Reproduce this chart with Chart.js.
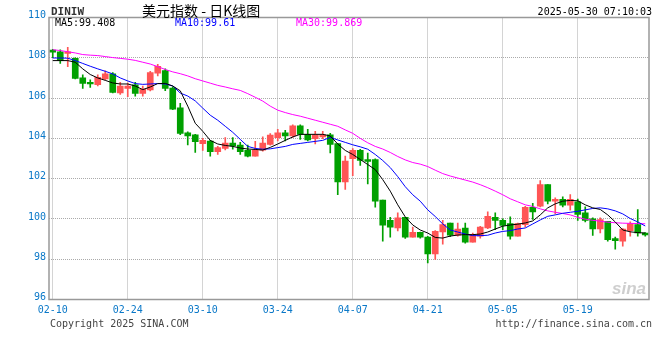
<!DOCTYPE html>
<html>
<head>
<meta charset="utf-8">
<script src="https://cdn.jsdelivr.net/npm/chart.js@4"></script>
<style>
  html, body { margin: 0; padding: 0; background: #ffffff; }
  #wrap { width: 660px; height: 360px; position: relative; }
</style>
</head>
<body>
<div id="wrap"><canvas id="c" width="660" height="360"></canvas></div>
<script>
// ---------- data ----------
const symbol = "DINIW";
const titleText = "美元指数 - 日K线图";
const stampText = "2025-05-30 07:10:03";
const copyrightText = "Copyright 2025 SINA.COM";
const urlText = "http://finance.sina.com.cn";
const ma5Label = "MA5:99.408";
const ma10Label = "MA10:99.61";
const ma30Label = "MA30:99.869";

const dates = [
  "02-10","02-11","02-12","02-13","02-14","02-17","02-18","02-19","02-20","02-21",
  "02-24","02-25","02-26","02-27","02-28","03-03","03-04","03-05","03-06","03-07",
  "03-10","03-11","03-12","03-13","03-14","03-17","03-18","03-19","03-20","03-21",
  "03-24","03-25","03-26","03-27","03-28","03-31","04-01","04-02","04-03","04-04",
  "04-07","04-08","04-09","04-10","04-11","04-14","04-15","04-16","04-17","04-18",
  "04-21","04-22","04-23","04-24","04-25","04-28","04-29","04-30","05-01","05-02",
  "05-05","05-06","05-07","05-08","05-09","05-12","05-13","05-14","05-15","05-16",
  "05-19","05-20","05-21","05-22","05-23","05-26","05-27","05-28","05-29","05-30"
];

const opens = [
  108.38,108.30,108.22,107.97,107.00,106.78,106.66,106.95,107.20,106.25,
  106.48,106.66,106.23,106.40,107.24,107.36,106.50,105.52,104.27,104.17,
  103.74,103.87,103.34,103.50,103.77,103.67,103.41,103.12,103.41,103.70,
  104.04,104.27,104.12,104.62,104.20,103.98,104.07,104.17,103.74,101.84,
  102.99,103.41,102.95,102.95,100.93,99.93,99.55,100.08,99.10,99.33,
  99.10,98.26,99.35,99.80,99.19,99.55,98.85,99.14,99.55,100.08,
  99.93,99.77,99.14,99.72,100.58,100.63,101.71,100.88,100.97,100.68,
  100.85,100.30,100.00,99.50,99.88,99.02,98.89,99.42,99.72,99.30
];
const closes = [
  108.28,107.86,108.30,106.98,106.73,106.70,107.03,107.20,106.28,106.60,
  106.60,106.23,106.45,107.27,107.57,106.48,105.45,104.24,104.12,103.83,
  103.90,103.34,103.54,103.77,103.62,103.34,103.12,103.42,103.77,104.16,
  104.27,104.12,104.62,104.20,103.92,104.17,104.17,103.70,101.84,102.87,
  103.41,102.91,102.85,100.88,99.69,99.59,100.05,99.10,99.33,99.10,
  98.26,99.38,99.72,99.19,99.50,98.85,99.22,99.59,100.13,99.93,
  99.68,99.14,99.77,100.58,100.35,101.71,100.88,100.97,100.68,100.97,
  100.22,99.93,99.50,99.97,98.97,98.92,99.50,99.77,99.30,99.20
];
const highs = [
  108.42,108.39,108.52,108.00,107.16,106.90,107.15,107.35,107.27,106.78,
  106.75,106.78,106.60,107.33,107.67,107.45,106.56,105.74,104.33,104.20,
  104.00,103.90,103.60,104.04,104.04,103.80,103.67,103.85,104.07,104.24,
  104.45,104.40,104.67,104.67,104.45,104.35,104.35,104.25,103.74,103.12,
  103.49,103.46,103.27,102.98,100.93,100.08,100.30,100.08,99.60,99.35,
  99.14,99.42,99.93,99.80,99.80,99.80,99.30,99.63,100.35,100.30,
  100.00,100.10,99.80,100.63,100.77,101.91,101.71,101.05,101.10,101.21,
  100.98,100.60,100.05,100.05,99.88,99.10,99.52,99.85,100.47,99.32
];
const lows = [
  108.00,107.72,107.56,106.95,106.48,106.53,106.60,106.90,106.25,106.18,
  106.07,106.10,106.10,106.35,107.10,106.37,105.42,104.18,103.67,103.30,
  103.40,103.12,103.20,103.42,103.46,103.20,103.08,103.12,103.37,103.66,
  103.87,103.87,104.05,103.95,103.87,103.73,103.98,103.28,101.20,101.46,
  102.15,102.66,101.74,100.58,98.89,99.09,99.40,99.03,99.10,99.05,
  97.81,97.99,98.75,99.12,99.15,98.80,98.85,99.05,99.52,99.47,
  99.47,99.00,99.14,99.60,99.97,100.60,100.75,100.25,100.60,100.43,
  99.93,99.85,99.18,99.30,98.90,98.50,98.65,99.14,99.14,99.15
];

const ma5 = [
  107.86,107.86,107.86,107.78,107.45,107.17,107.00,106.88,106.75,106.70,
  106.70,106.60,106.42,106.55,106.72,106.73,106.60,106.36,105.60,104.75,
  104.35,103.90,103.72,103.65,103.60,103.52,103.47,103.45,103.42,103.55,
  103.72,103.90,104.07,104.20,104.20,104.20,104.20,104.12,103.72,103.40,
  103.20,102.95,102.70,102.45,101.95,101.38,100.70,100.10,99.70,99.45,
  99.30,99.08,99.05,99.15,99.20,99.22,99.22,99.25,99.35,99.50,
  99.64,99.70,99.74,99.80,99.90,100.20,100.55,100.75,100.88,100.92,
  100.90,100.70,100.55,100.47,100.20,99.85,99.45,99.36,99.32,99.30
];
const ma10 = [
  107.99,107.99,107.98,107.86,107.72,107.58,107.45,107.33,107.20,107.00,
  106.85,106.72,106.68,106.70,106.72,106.70,106.60,106.25,106.10,105.86,
  105.50,105.15,104.90,104.60,104.30,103.95,103.60,103.50,103.46,103.48,
  103.54,103.60,103.70,103.75,103.80,103.85,103.90,104.05,103.92,103.80,
  103.68,103.58,103.46,103.20,102.90,102.55,102.10,101.60,101.20,100.88,
  100.45,100.12,99.75,99.45,99.35,99.25,99.17,99.17,99.19,99.30,
  99.38,99.42,99.50,99.55,99.75,99.95,100.13,100.20,100.28,100.33,
  100.38,100.45,100.52,100.55,100.50,100.40,100.25,100.02,99.85,99.65
];
const ma30 = [
  108.40,108.36,108.30,108.24,108.16,108.13,108.11,108.06,108.01,107.97,
  107.93,107.87,107.78,107.69,107.56,107.42,107.30,107.21,107.10,106.96,
  106.85,106.74,106.63,106.55,106.46,106.38,106.22,106.04,105.85,105.60,
  105.40,105.28,105.18,105.10,105.00,104.90,104.80,104.70,104.60,104.42,
  104.25,104.00,103.78,103.60,103.47,103.30,103.10,102.93,102.80,102.72,
  102.60,102.42,102.25,102.13,102.03,101.93,101.83,101.70,101.55,101.38,
  101.20,101.00,100.85,100.70,100.62,100.50,100.40,100.33,100.27,100.20,
  100.08,99.99,99.93,99.89,99.84,99.81,99.79,99.78,99.77,99.76
];

const yMin = 96, yMax = 110, yStep = 2;

// ---------- styles ----------
const UP = '#ff5555', DOWN = '#00a000';
const AXIS_BLUE = '#0a78c8';
const GRID = '#aaaaaa';
const MONO = '"DejaVu Sans Mono", "Liberation Mono", monospace';

const candleColors = opens.map((o, i) => closes[i] >= o ? UP : DOWN);
const bodyData = opens.map((o, i) => [o, closes[i]]);
const wickData = lows.map((l, i) => [l, highs[i]]);

Chart.defaults.font.family = MONO;

const framePlugin = {
  id: 'frame',
  afterDraw(chart) {
    const { ctx, chartArea: a } = chart;
    ctx.save();
    // frame
    ctx.strokeStyle = '#999999';
    ctx.lineWidth = 1.5;
    ctx.strokeRect(a.left, a.top, a.right - a.left, a.bottom - a.top);

    ctx.textBaseline = 'middle';
    // header
    ctx.fillStyle = '#333333';
    ctx.font = 'bold 11px ' + MONO;
    ctx.textAlign = 'left';
    ctx.fillText(symbol, 51, 12);
    ctx.fillStyle = '#000000';
    ctx.font = '14px "Noto Sans CJK SC", sans-serif';
    ctx.fillText(titleText, 142, 11);
    ctx.font = '10px ' + MONO;
    ctx.textAlign = 'right';
    ctx.fillText(stampText, 652, 12);

    // MA legend
    ctx.textAlign = 'left';
    ctx.fillStyle = '#000000';
    ctx.fillText(ma5Label, 55, 23.5);
    ctx.fillStyle = '#0000ff';
    ctx.fillText(ma10Label, 175, 23.5);
    ctx.fillStyle = '#ff00ff';
    ctx.fillText(ma30Label, 296, 23.5);

    // footer
    ctx.fillStyle = '#444444';
    ctx.fillText(copyrightText, 50, 324);
    ctx.textAlign = 'right';
    ctx.fillText(urlText, 652, 324);

    // watermark
    ctx.fillStyle = 'rgba(190,190,190,0.75)';
    ctx.font = 'italic bold 17px "Liberation Sans", sans-serif';
    ctx.textAlign = 'right';
    ctx.fillText('sina', 646, 289);
    ctx.restore();
  }
};

new Chart(document.getElementById('c'), {
  data: {
    labels: dates,
    datasets: [
      { type: 'line', label: 'MA5', data: ma5, borderColor: '#000000', borderWidth: 1,
        pointRadius: 0, tension: 0, order: 0 },
      { type: 'line', label: 'MA10', data: ma10, borderColor: '#0000ff', borderWidth: 1,
        pointRadius: 0, tension: 0, order: 0 },
      { type: 'line', label: 'MA30', data: ma30, borderColor: '#ff00ff', borderWidth: 1,
        pointRadius: 0, tension: 0, order: 0 },
      { type: 'bar', label: 'body', data: bodyData, backgroundColor: candleColors,
        barThickness: 6, minBarLength: 1, grouped: false, borderWidth: 0, order: 1 },
      { type: 'bar', label: 'wick', data: wickData, backgroundColor: candleColors,
        barThickness: 1, grouped: false, borderWidth: 0, order: 2 }
    ]
  },
  options: {
    responsive: false,
    animation: false,
    events: [],
    layout: { padding: { top: 17.5, right: 11, bottom: 40, left: 0 } },
    plugins: { legend: { display: false }, tooltip: { enabled: false } },
    scales: {
      x: {
        type: 'category',
        offset: true,
        grid: {
          offset: false,
          drawTicks: false,
          lineWidth: 1,
          color: (c) => (c.index % 10 === 0 ? GRID : 'rgba(0,0,0,0)')
        },
        border: { display: false, dash: [1, 1] },
        ticks: {
          autoSkip: false,
          maxRotation: 0,
          padding: 5,
          color: AXIS_BLUE,
          font: { size: 10, family: MONO },
          callback: (v, i) => (i % 10 === 0 ? dates[i] : '')
        },
        afterFit: (s) => { s.height = 20.5; }
      },
      y: {
        min: yMin, max: yMax,
        grid: { drawTicks: false, color: GRID, lineWidth: 1 },
        border: { display: false, dash: [1, 1] },
        ticks: {
          stepSize: yStep,
          padding: 3,
          labelOffset: -2,
          color: AXIS_BLUE,
          font: { size: 10, family: MONO }
        },
        afterFit: (s) => { s.width = 49; }
      }
    }
  },
  plugins: [framePlugin]
});
</script>
</body>
</html>
